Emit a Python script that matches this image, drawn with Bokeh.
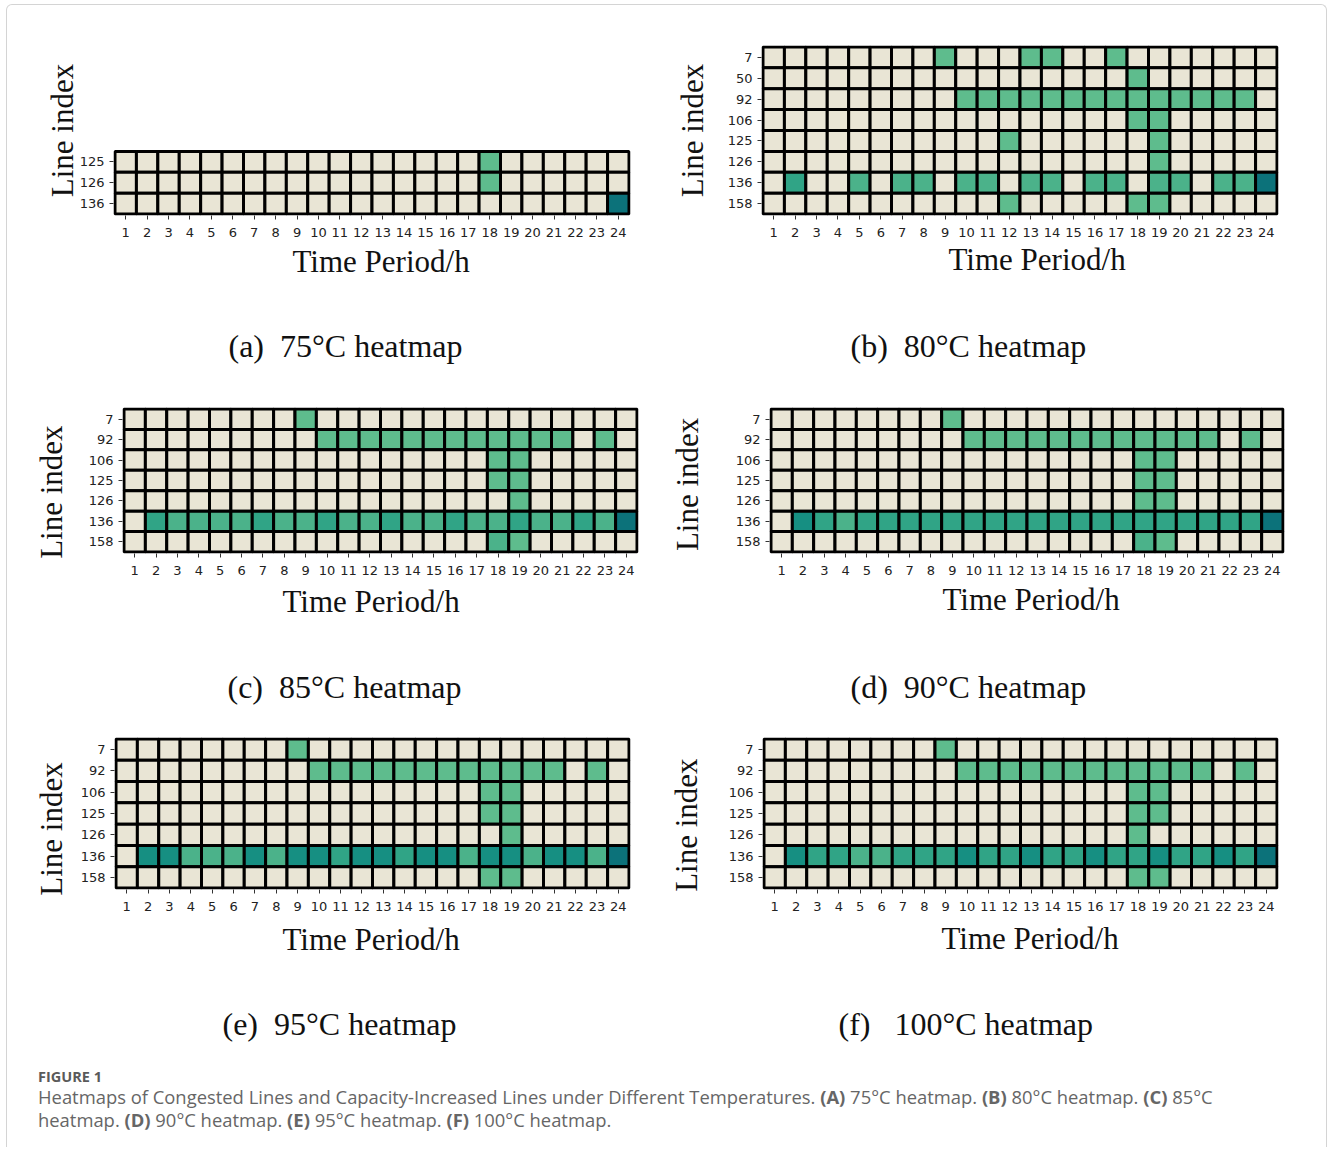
from bokeh.plotting import figure
from bokeh.models import (ColumnDataSource, LinearColorMapper, FixedTicker, Range1d,
                          Title, Div, Label)
from bokeh.layouts import column, row
from bokeh.transform import transform
from bokeh.embed import file_html
from bokeh.resources import INLINE

# ---------------- data ----------------
hours = list(range(1, 25))

# level per cell (0 = not congested ... 5 = strongest), one string per line, hours 1..24
lines_a = ["125", "126", "136"]
cells_a = [
    "000000000000000001000000",
    "000000000000000001000000",
    "000000000000000000000005",
]

lines_b = ["7", "50", "92", "106", "125", "126", "136", "158"]
cells_b = [
    "000000001000110010000000",
    "000000000000000001000000",
    "000000000111111111111110",
    "000000000000000001100000",
    "000000000001000000100000",
    "000000000000000000100000",
    "030020220220220220220225",
    "000000000001000001100000",
]

lines_c = ["7", "92", "106", "125", "126", "136", "158"]
cells_c = [
    "000000001000000000000000",
    "000000000111111111111010",
    "000000000000000001100000",
    "000000000000000001100000",
    "000000000000000000100000",
    "032222322322322322322325",
    "000000000000000002100000",
]

lines_d = ["7", "92", "106", "125", "126", "136", "158"]
cells_d = [
    "000000001000000000000000",
    "000000000111111111111010",
    "000000000000000001100000",
    "000000000000000001100000",
    "000000000000000001100000",
    "043233333333333333333335",
    "000000000000000002100000",
]

lines_e = ["7", "92", "106", "125", "126", "136", "158"]
cells_e = [
    "000000001000000000000000",
    "000000000111111111111010",
    "000000000000000001100000",
    "000000000000000001100000",
    "000000000000000000100000",
    "044222424434434424424425",
    "000000000000000001100000",
]

lines_f = ["7", "92", "106", "125", "126", "136", "158"]
cells_f = [
    "000000001000000000000000",
    "000000000111111111111010",
    "000000000000000001100000",
    "000000000000000001100000",
    "000000000000000001000000",
    "043322333433433433433435",
    "000000000000000001100000",
]

captions = ["(a)\u00a0 75°C heatmap", "(b)\u00a0 80°C heatmap", "(c)\u00a0 85°C heatmap",
            "(d)\u00a0 90°C heatmap", "(e)\u00a0 95°C heatmap", "(f)\u00a0\u00a0 100°C heatmap"]

palette = ["#E9E5D5", "#5EBC8D", "#4BB28A", "#30A486", "#168F82", "#0C727A"]
mapper = LinearColorMapper(palette=palette, low=0, high=5)

SERIF = "Liberation Serif"
SANS = "DejaVu Sans"
PAD = 0.07
TOTAL_W = 1322
NB = "\u00a0"


def make_panel(lines, cells, n_slots, fw, fh, bl, br, bt, bb,
               y_shift, y_stand, x_off, x_stand):
    n = len(lines)
    xs, ys, vs = [], [], []
    for i, (line, r) in enumerate(zip(lines, cells)):
        for h, ch in zip(hours, r):
            xs.append(h)
            ys.append(n - 1 - i)
            vs.append(int(ch))
    src = ColumnDataSource(dict(x=xs, y=ys, v=vs))
    p = figure(x_range=Range1d(0.5 - PAD, 24.5 + PAD),
               y_range=Range1d(-0.5 - PAD, n_slots - 0.5 + PAD),
               frame_width=fw, frame_height=fh,
               min_border_left=bl, min_border_right=br,
               min_border_top=bt, min_border_bottom=bb,
               output_backend="svg", toolbar_location=None, tools="")
    p.rect(x="x", y="y", width=1, height=1, source=src,
           fill_color=transform("v", mapper), line_color="black", line_width=3)
    p.grid.visible = False
    p.outline_line_color = None
    p.background_fill_color = "white"
    p.border_fill_color = None
    p.xaxis.ticker = FixedTicker(ticks=hours)
    p.yaxis.ticker = FixedTicker(ticks=list(range(n)))
    p.yaxis.major_label_overrides = {n - 1 - i: line for i, line in enumerate(lines)}
    for ax in (p.xaxis[0], p.yaxis[0]):
        ax.axis_line_color = None
        ax.major_tick_out = 4
        ax.major_tick_in = 0
        ax.minor_tick_line_color = None
        ax.major_tick_line_color = "#333333"
        ax.major_label_text_font = SANS
        ax.major_label_text_font_size = "13px"
        ax.major_label_text_color = "#222222"
    p.xaxis.major_label_standoff = 8
    p.yaxis.major_label_standoff = 5
    ya = p.yaxis[0]
    ya.axis_label = "Line index" + NB * y_shift
    ya.axis_label_text_font = SERIF
    ya.axis_label_text_font_size = "31px"
    ya.axis_label_text_font_style = "normal"
    ya.axis_label_text_color = "#111111"
    ya.axis_label_standoff = y_stand
    xlab = Title(text="Time Period/h", align="left", offset=x_off, standoff=x_stand,
                 text_font=SERIF, text_font_size="31px", text_font_style="normal",
                 text_color="#111111")
    p.add_layout(xlab, "below")
    return p


def caption_strip(height, texts, xs, y):
    s = figure(width=TOTAL_W, height=height, x_range=Range1d(0, TOTAL_W),
               y_range=Range1d(0, height), min_border=0, title=None,
               output_backend="svg", toolbar_location=None, tools="")
    s.axis.visible = False
    s.grid.visible = False
    s.outline_line_color = None
    s.background_fill_color = None
    s.border_fill_color = None
    for t, x in zip(texts, xs):
        s.add_layout(Label(x=x, y=y, text=t, text_align="left", text_baseline="middle",
                           text_font=SERIF, text_font_size="32px", text_color="#111111"))
    return s


pa = make_panel(lines_a, cells_a, 8, 517, 170, 113, 35, 45, 85,
                0, -3, 179, 4)
pb = make_panel(lines_b, cells_b, 8, 517, 170, 96, 44, 45, 85,
                0, 15, 187, 1)
cap1 = caption_strip(85, captions[0:2], [228, 850], 40)

pc = make_panel(lines_c, cells_c, 7, 516, 146, 122, 27, 22, 87,
                3, 17, 160, 8)
pd = make_panel(lines_d, cells_d, 7, 515, 146, 104, 38, 22, 87,
                1, 28, 173, 5)
cap2 = caption_strip(80, captions[2:4], [227, 850], 34)

pe = make_panel(lines_e, cells_e, 7, 516, 152, 114, 35, 17, 86,
                4, 9, 168, 12)
pf = make_panel(lines_f, cells_f, 7, 516, 152, 96, 45, 17, 86,
                3, 22, 179, 10)
cap3 = caption_strip(83, captions[4:6], [222, 838], 35)

footer = Div(
    text=('<div style="font-family:\'Open Sans\'; color:#666666; white-space:nowrap;">'
          '<div style="font-size:14.5px; font-weight:bold; line-height:16px; color:#5a5a5a;">FIGURE 1</div>'
          '<div style="font-size:18.4px; line-height:23px;">'
          'Heatmaps of Congested Lines and Capacity-Increased Lines under Different Temperatures. '
          '<b>(A)</b> 75°C heatmap. <b>(B)</b> 80°C heatmap. <b>(C)</b> 85°C<br>'
          'heatmap. <b>(D)</b> 90°C heatmap. <b>(E)</b> 95°C heatmap. <b>(F)</b> 100°C heatmap.'
          '</div></div>'),
    width=1280, height=84,
    styles={"padding-left": "33px", "padding-top": "6px"},
)

card = Div(text="", width=1321, height=1143, margin=0,
           styles={"position": "absolute", "left": "6px", "top": "4px",
                   "border": "1px solid #d4d4d4", "border-bottom": "none",
                   "border-radius": "6px 6px 0 0", "pointer-events": "none"})

layout = column(card, row(pa, pb), cap1, row(pc, pd), cap2, row(pe, pf), cap3, footer)

open("out.html", "w").write(file_html(layout, INLINE))
